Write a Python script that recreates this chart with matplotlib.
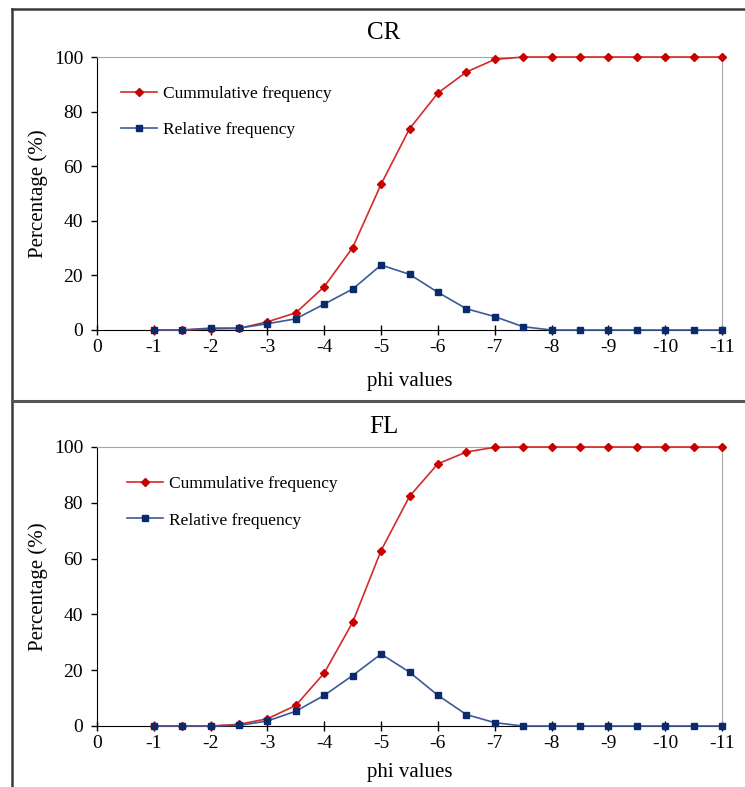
import numpy as np
import matplotlib
matplotlib.use('Agg')
from matplotlib import pyplot as plt
from matplotlib.lines import Line2D

plt.rcParams['font.family'] = ['Liberation Serif', 'DejaVu Serif']
plt.rcParams['axes.unicode_minus'] = False

# phi classes (-1 .. -11 in half steps)
phi = [-1, -1.5, -2, -2.5, -3, -3.5, -4, -4.5, -5, -5.5, -6, -6.5, -7, -7.5,
       -8, -8.5, -9, -9.5, -10, -10.5, -11]

cr_cum = [0, 0, 0.4, 0.6, 3.0, 6.3, 15.9, 30.2, 53.4, 73.7, 86.8, 94.5, 99.1, 100,
          100, 100, 100, 100, 100, 100, 100]
cr_rel = [0, 0, 0.7, 0.7, 2.3, 4.1, 9.5, 15.0, 23.8, 20.4, 13.8, 7.8, 4.9, 1.2,
          0, 0, 0, 0, 0, 0, 0]

fl_cum = [0, 0, 0, 0.6, 2.6, 7.4, 19.0, 37.2, 62.9, 82.3, 94.0, 98.2, 99.9, 100,
          100, 100, 100, 100, 100, 100, 100]
fl_rel = [0, 0, 0, 0.2, 1.8, 5.3, 11.0, 18.1, 25.8, 19.3, 11.0, 4.1, 1.2, 0,
          0, 0, 0, 0, 0, 0, 0]

xticks = list(range(0, -12, -1))
yticks = [0, 20, 40, 60, 80, 100]

W, H = 745, 787
fig = plt.figure(figsize=(W / 100, H / 100), dpi=100)


def panel(top, bottom, title, cum, rel, title_y, xlab_y, leg_x, leg_y):
    ax = fig.add_axes([97 / W, 1 - bottom / H, (722 - 97) / W, (bottom - top) / H])
    ax.plot(phi, cum, color='#d42a2a', lw=1.2, marker='D', ms=4.5,
            mfc='#c80000', mec='#c80000', label='Cummulative frequency', clip_on=False, zorder=3)
    ax.plot(phi, rel, color='#3d5a96', lw=1.2, marker='s', ms=4.5,
            mfc='#0b2a6b', mec='#0b2a6b', label='Relative frequency', clip_on=False, zorder=3)
    ax.set_xlim(0, -11)
    ax.set_ylim(0, 100)
    ax.set_xticks(xticks)
    ax.set_xticklabels([str(t) for t in xticks])
    ax.set_yticks(yticks)
    ax.tick_params(axis='x', direction='inout', length=7, width=1, labelsize=14, pad=3)
    ax.tick_params(axis='y', direction='out', length=4, width=1, labelsize=14, pad=6)
    for s in ['top', 'right']:
        ax.spines[s].set_color('#a6a6a6')
    for s in ['left', 'bottom']:
        ax.spines[s].set_color('black')
    ax.set_ylabel('Percentage (%)', fontsize=15)
    ax.yaxis.set_label_coords((48 - 97) / (722 - 97), 0.5)
    fig.text(410 / W, 1 - xlab_y / H, 'phi values', ha='center', va='center', fontsize=15)
    fig.text(384 / W, 1 - title_y / H, title, ha='center', va='center', fontsize=18)
    ax.legend(loc='upper left', bbox_to_anchor=((leg_x - 97) / (722 - 97), leg_y),
              frameon=False, fontsize=12.5, labelspacing=1.15, handlelength=2.1,
              handletextpad=0.35, borderaxespad=0)
    return ax


panel(57, 330, 'CR', cr_cum, cr_rel, 33, 381, 114, 0.92)
panel(447, 726, 'FL', fl_cum, fl_rel, 427, 772, 120, 0.92)

# panel frame lines
lc = '#3a3a3a'
fig.add_artist(Line2D([12 / W, 12 / W], [0, 1 - 9 / H], color=lc, lw=1.8))
fig.add_artist(Line2D([12 / W, 1], [1 - 9 / H, 1 - 9 / H], color=lc, lw=1.8))
fig.add_artist(Line2D([12 / W, 1], [1 - 401 / H, 1 - 401 / H], color='#555555', lw=2.2))

fig.savefig('out.png', dpi=100)
